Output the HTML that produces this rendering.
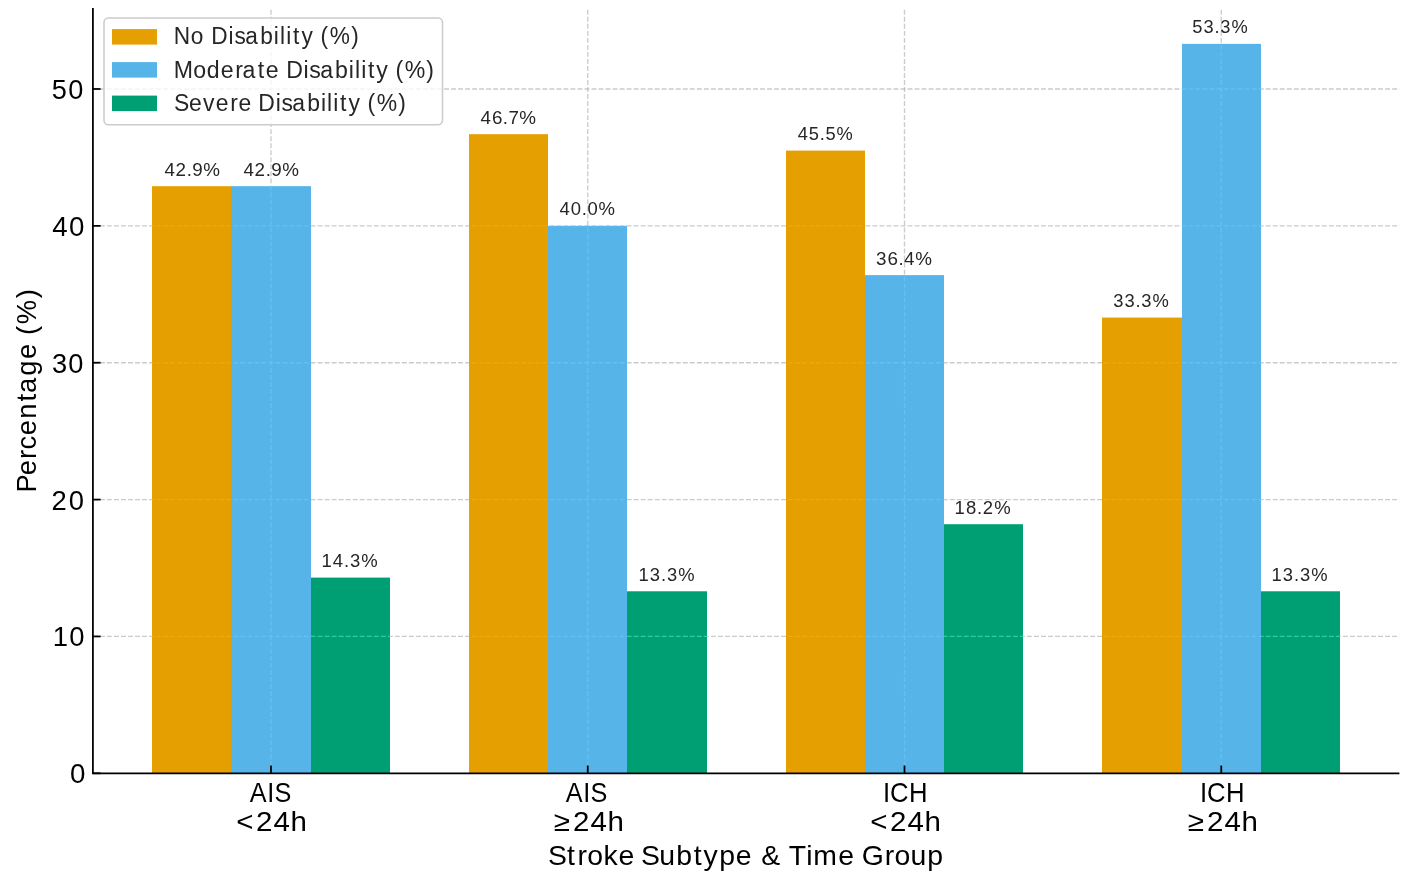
<!DOCTYPE html><html><head><meta charset="utf-8"><style>html,body{margin:0;padding:0;background:#fff;overflow:hidden;}svg{display:block;will-change:transform;}text{font-family:"Liberation Sans",sans-serif;}</style></head><body>
<svg width="1417" height="889" viewBox="0 0 1417 889">
<rect x="0" y="0" width="1417" height="889" fill="#fff"/>
<rect x="152" y="186.17" width="79" height="587.03" fill="#E69F00"/>
<rect x="231" y="186.17" width="80" height="587.03" fill="#56B4E9"/>
<rect x="311" y="577.59" width="79" height="195.61" fill="#009E73"/>
<rect x="469" y="134.16" width="79" height="639.04" fill="#E69F00"/>
<rect x="548" y="225.86" width="79" height="547.34" fill="#56B4E9"/>
<rect x="627" y="591.28" width="80" height="181.92" fill="#009E73"/>
<rect x="786" y="150.59" width="79" height="622.61" fill="#E69F00"/>
<rect x="865" y="275.13" width="79" height="498.07" fill="#56B4E9"/>
<rect x="944" y="524.21" width="79" height="248.99" fill="#009E73"/>
<rect x="1102" y="317.56" width="80" height="455.64" fill="#E69F00"/>
<rect x="1182" y="43.84" width="79" height="729.36" fill="#56B4E9"/>
<rect x="1261" y="591.28" width="79" height="181.92" fill="#009E73"/>
<g style="mix-blend-mode:luminosity">
<line x1="92.9" y1="636.44" x2="1399.4" y2="636.44" stroke="#b0b0b0" stroke-opacity="0.66" stroke-width="1.33" stroke-dasharray="4.903 2.120"/>
<line x1="92.9" y1="499.58" x2="1399.4" y2="499.58" stroke="#b0b0b0" stroke-opacity="0.66" stroke-width="1.33" stroke-dasharray="4.903 2.120"/>
<line x1="92.9" y1="362.72" x2="1399.4" y2="362.72" stroke="#b0b0b0" stroke-opacity="0.66" stroke-width="1.33" stroke-dasharray="4.903 2.120"/>
<line x1="92.9" y1="225.86" x2="1399.4" y2="225.86" stroke="#b0b0b0" stroke-opacity="0.66" stroke-width="1.33" stroke-dasharray="4.903 2.120"/>
<line x1="92.9" y1="89.00" x2="1399.4" y2="89.00" stroke="#b0b0b0" stroke-opacity="0.66" stroke-width="1.33" stroke-dasharray="4.903 2.120"/>
<line x1="271.00" y1="773.2" x2="271.00" y2="8.0" stroke="#b0b0b0" stroke-opacity="0.66" stroke-width="1.33" stroke-dasharray="4.903 2.120"/>
<line x1="587.75" y1="773.2" x2="587.75" y2="8.0" stroke="#b0b0b0" stroke-opacity="0.66" stroke-width="1.33" stroke-dasharray="4.903 2.120"/>
<line x1="904.50" y1="773.2" x2="904.50" y2="8.0" stroke="#b0b0b0" stroke-opacity="0.66" stroke-width="1.33" stroke-dasharray="4.903 2.120"/>
<line x1="1221.25" y1="773.2" x2="1221.25" y2="8.0" stroke="#b0b0b0" stroke-opacity="0.66" stroke-width="1.33" stroke-dasharray="4.903 2.120"/>
</g>
<line x1="92.9" y1="8.0" x2="92.9" y2="774.085" stroke="#000" stroke-width="1.77"/>
<line x1="92.015" y1="773.4000000000001" x2="1399.4" y2="773.4000000000001" stroke="#000" stroke-width="1.9"/>
<line x1="92.9" y1="773.30" x2="100.60" y2="773.30" stroke="#000" stroke-width="1.77"/>
<line x1="92.9" y1="636.44" x2="100.60" y2="636.44" stroke="#000" stroke-width="1.77"/>
<line x1="92.9" y1="499.58" x2="100.60" y2="499.58" stroke="#000" stroke-width="1.77"/>
<line x1="92.9" y1="362.72" x2="100.60" y2="362.72" stroke="#000" stroke-width="1.77"/>
<line x1="92.9" y1="225.86" x2="100.60" y2="225.86" stroke="#000" stroke-width="1.77"/>
<line x1="92.9" y1="89.00" x2="100.60" y2="89.00" stroke="#000" stroke-width="1.77"/>
<line x1="271.00" y1="773.2" x2="271.00" y2="765.50" stroke="#000" stroke-width="1.77"/>
<line x1="587.75" y1="773.2" x2="587.75" y2="765.50" stroke="#000" stroke-width="1.77"/>
<line x1="904.50" y1="773.2" x2="904.50" y2="765.50" stroke="#000" stroke-width="1.77"/>
<line x1="1221.25" y1="773.2" x2="1221.25" y2="765.50" stroke="#000" stroke-width="1.77"/>
<rect x="104.0" y="18.0" width="338.5" height="106.7" rx="4.4" ry="4.4" fill="#fff" fill-opacity="0.8" stroke="#cccccc" stroke-width="1.6"/>
<rect x="112" y="29.1" width="45" height="15.5" fill="#E69F00"/>
<rect x="112" y="62.1" width="45" height="15.5" fill="#56B4E9"/>
<rect x="112" y="95.6" width="45" height="15.5" fill="#009E73"/>
<text transform="translate(164.26,176.25) scale(1.0000,1)" x="0.25 11.26 22.51 28.08 39.09" y="0" font-size="18.81" fill="#262626">42.9%</text>
<text transform="translate(480.26,124.25) scale(1.0000,1)" x="0.25 11.63 22.51 28.20 39.09" y="0" font-size="18.81" fill="#262626">46.7%</text>
<text transform="translate(797.26,140.25) scale(0.9719,1)" x="0.40 11.86 23.24 29.04 40.46" y="0" font-size="18.81" fill="#262626">45.5%</text>
<text transform="translate(1112.76,307.25) scale(0.9769,1)" x="0.50 12.01 23.32 29.25 40.58" y="0" font-size="18.81" fill="#262626">33.3%</text>
<text transform="translate(243.26,176.25) scale(1.0000,1)" x="0.25 11.26 22.51 28.08 39.09" y="0" font-size="18.81" fill="#262626">42.9%</text>
<text transform="translate(559.26,215.25) scale(0.9831,1)" x="0.34 11.79 22.94 28.77 39.90" y="0" font-size="18.81" fill="#262626">40.0%</text>
<text transform="translate(875.76,265.25) scale(1.0000,1)" x="0.37 11.73 22.72 28.34 39.45" y="0" font-size="18.81" fill="#262626">36.4%</text>
<text transform="translate(1191.76,33.25) scale(0.9713,1)" x="0.41 12.10 23.47 29.45 40.86" y="0" font-size="18.81" fill="#262626">53.3%</text>
<text transform="translate(320.98,567.25) scale(0.9827,1)" x="0.48 11.95 23.49 29.46 40.86" y="0" font-size="18.81" fill="#262626">14.3%</text>
<text transform="translate(637.98,581.25) scale(0.9765,1)" x="0.52 12.18 23.66 29.68 41.17" y="0" font-size="18.81" fill="#262626">13.3%</text>
<text transform="translate(953.98,514.25) scale(0.9822,1)" x="0.49 12.21 23.50 29.22 40.88" y="0" font-size="18.81" fill="#262626">18.2%</text>
<text transform="translate(1270.98,581.25) scale(0.9765,1)" x="0.52 12.18 23.66 29.68 41.17" y="0" font-size="18.81" fill="#262626">13.3%</text>
<text transform="translate(69.28,782.75) scale(0.9815,1)" x="0.77" y="0" font-size="28.22" fill="#000">0</text>
<text transform="translate(52.10,645.75) scale(0.9706,1)" x="0.74 17.74" y="0" font-size="28.22" fill="#000">10</text>
<text transform="translate(51.00,509.75) scale(0.9714,1)" x="0.49 18.35" y="0" font-size="28.22" fill="#000">20</text>
<text transform="translate(51.06,372.75) scale(0.9630,1)" x="0.92 17.96" y="0" font-size="28.22" fill="#000">30</text>
<text transform="translate(51.78,235.75) scale(0.9820,1)" x="0.51 17.62" y="0" font-size="28.22" fill="#000">40</text>
<text transform="translate(51.06,98.75) scale(0.9626,1)" x="0.67 17.97" y="0" font-size="28.22" fill="#000">50</text>
<text transform="translate(249.06,801.75) scale(0.8940,1)" x="0.67 20.29 28.53" y="0" font-size="28.22" fill="#000">AIS</text>
<text transform="translate(233.83,830.85) scale(1.0577,1)" x="2.28 21.04 37.41 53.65" y="0" font-size="27.90" fill="#000">&lt;24h</text>
<text transform="translate(565.06,801.75) scale(0.8940,1)" x="0.67 20.29 28.53" y="0" font-size="28.22" fill="#000">AIS</text>
<text transform="translate(550.83,830.85) scale(1.0577,1)" x="2.79 21.04 37.41 53.65" y="0" font-size="27.90" fill="#000">≥24h</text>
<text transform="translate(882.57,801.75) scale(0.9103,1)" x="0.37 8.17 28.91" y="0" font-size="28.22" fill="#000">ICH</text>
<text transform="translate(867.83,830.85) scale(1.0577,1)" x="2.28 21.04 37.41 53.65" y="0" font-size="27.90" fill="#000">&lt;24h</text>
<text transform="translate(1199.57,801.75) scale(0.9103,1)" x="0.37 8.17 28.91" y="0" font-size="28.22" fill="#000">ICH</text>
<text transform="translate(1184.83,830.85) scale(1.0577,1)" x="2.79 21.04 37.41 53.65" y="0" font-size="27.90" fill="#000">≥24h</text>
<text transform="translate(548.95,865.35) scale(1.0182,1)" x="-1.02 17.70 28.15 37.60 53.59 68.32 83.08 90.35 108.39 125.03 142.15 151.83 167.24 183.55 199.24 208.46 227.86 235.50 252.75 259.65 284.26 299.95 307.32 329.82 339.27 355.02 371.66" y="0" font-size="27.90" fill="#000">Stroke Subtype &amp; Time Group</text>
<text transform="translate(36.05,491.78) rotate(-90) scale(0.9808,1)" x="-0.82 16.87 33.43 43.01 57.72 74.52 92.00 100.61 118.34 135.42 151.31 159.84 170.72 197.25" y="0" font-size="27.90" fill="#000">Percentage (%)</text>
<text transform="translate(173.75,43.80) scale(0.9744,1)" x="0.10 17.56 30.91 38.50 56.21 62.23 73.33 88.67 102.73 109.04 115.35 122.33 131.05 143.45 150.67 160.20 182.25" y="0" font-size="23.25" fill="#262626">No Disability (%)</text>
<text transform="translate(173.75,77.50) scale(0.9946,1)" x="-0.07 19.61 33.22 47.34 61.90 69.17 84.55 92.53 105.81 113.05 130.53 136.35 147.19 162.21 176.06 182.24 188.42 195.23 203.72 215.97 222.94 232.16 253.89" y="0" font-size="23.25" fill="#262626">Moderate Disability (%)</text>
<text transform="translate(174.50,110.80) scale(0.9865,1)" x="-0.40 14.70 28.99 41.76 56.41 64.77 77.61 84.98 102.54 108.43 119.37 134.50 148.42 154.65 160.88 167.75 176.32 188.63 195.69 205.02 226.86" y="0" font-size="23.25" fill="#262626">Severe Disability (%)</text>
</svg></body></html>
